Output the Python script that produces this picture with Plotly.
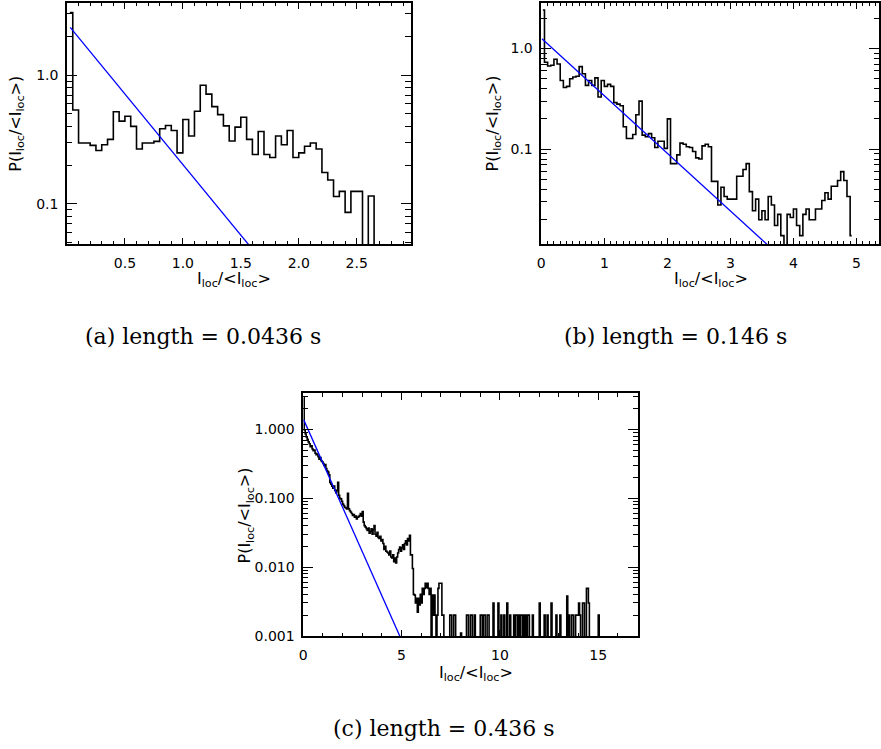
import plotly.graph_objects as go

W, H = 881, 749

# ---------------- data ----------------
bin_width = 0.05

# panel (a): length = 0.0436 s
a_values = [3.08, 0.537, 0.297, 0.297, 0.285, 0.26, 0.288, 0.317, 0.52, 0.44,
            0.48, 0.40, 0.267, 0.297, 0.297, 0.306, 0.384, 0.407, 0.372, 0.249,
            0.453, 0.337, 0.525, 0.837, 0.714, 0.57, 0.494, 0.404, 0.308, 0.395,
            0.472, 0.317, 0.242, 0.365, 0.242, 0.229, 0.337, 0.288, 0.372, 0.229,
            0.249, 0.28, 0.297, 0.267, 0.175, 0.153, 0.114, 0.125, 0.0857, 0.125,
            0.125, 0.0, 0.115, 0.0]
a_fit_x = [0.028, 1.60]
a_fit_y = [2.36, 0.0443]

# panel (b): length = 0.146 s
b_values = [2.41, 0.73, 0.67, 0.68, 0.78, 0.70, 0.48, 0.41, 0.42, 0.50,
            0.52, 0.53, 0.66, 0.56, 0.43, 0.48, 0.43, 0.51, 0.33, 0.48,
            0.42, 0.44, 0.42, 0.29, 0.28, 0.27, 0.167, 0.128, 0.128, 0.14,
            0.22, 0.30, 0.138, 0.133, 0.143, 0.13, 0.104, 0.12, 0.12, 0.102,
            0.20, 0.072, 0.072, 0.088, 0.115, 0.112, 0.106, 0.104, 0.095, 0.082,
            0.08, 0.108, 0.112, 0.106, 0.048, 0.048, 0.028, 0.042, 0.034, 0.032,
            0.032, 0.032, 0.054, 0.054, 0.063, 0.072, 0.038, 0.0245, 0.032, 0.020,
            0.0245, 0.020, 0.034, 0.028, 0.0175, 0.0226, 0.0139, 0.0, 0.0226, 0.021,
            0.0255, 0.0175, 0.0139, 0.0226, 0.0255, 0.020, 0.020, 0.0255, 0.0255, 0.031,
            0.037, 0.032, 0.043, 0.043, 0.049, 0.06, 0.049, 0.034, 0.0139]
b_fit_x = [0.01, 3.58]
b_fit_y = [1.25, 0.0114]

# panel (c): length = 0.436 s
c_values = [
    2.9, 0.98, 0.86, 0.78, 0.72, 0.66, 0.62, 0.56, 0.58, 0.52, 0.49, 0.50, 0.45, 0.43, 0.44, 0.40, 0.37, 0.39, 0.35, 0.34,
    0.32, 0.30, 0.31, 0.27, 0.25, 0.24, 0.22, 0.17, 0.16, 0.15, 0.14, 0.15, 0.13, 0.12, 0.13, 0.17, 0.11, 0.10, 0.098, 0.09,
    0.082, 0.078, 0.074, 0.072, 0.07, 0.118, 0.07, 0.066, 0.063, 0.06, 0.056, 0.058, 0.053, 0.055, 0.05, 0.053, 0.054, 0.056, 0.06, 0.055,
    0.064, 0.045, 0.040, 0.038, 0.036, 0.034, 0.037, 0.031, 0.033, 0.036, 0.03, 0.035, 0.040, 0.03, 0.028, 0.032, 0.027, 0.026, 0.028, 0.024,
    0.025, 0.022, 0.018, 0.02, 0.017, 0.0165, 0.016, 0.015, 0.017, 0.014, 0.0135, 0.015, 0.012, 0.0135, 0.0115, 0.014, 0.016, 0.018, 0.0195, 0.017,
    0.019, 0.021, 0.018, 0.022, 0.024, 0.021, 0.026, 0.024, 0.029, 0.015, 0.015, 0.0095, 0.004, 0.0039, 0.003, 0.0035, 0.0022, 0.0035, 0.0028, 0.004,
    0.003, 0.0049, 0.004, 0.0049, 0.0058, 0.005, 0.0058, 0.0049, 0.004, 0.0049, 0.0, 0.0039, 0.002, 0.0039, 0.002, 0.0, 0.002, 0.0049, 0.0058, 0.0058,
    0.0058, 0.002, 0.002, 0, 0, 0, 0, 0, 0, 0.002, 0.002, 0, 0, 0.002, 0.002, 0, 0, 0, 0, 0,
    0.0011, 0, 0, 0, 0, 0, 0.002, 0.002, 0, 0, 0.002, 0.002, 0, 0, 0.002, 0, 0, 0, 0, 0,
    0.002, 0.002, 0, 0.002, 0.002, 0, 0, 0.002, 0.002, 0, 0, 0, 0, 0.003, 0, 0, 0, 0, 0.003, 0,
    0, 0.002, 0, 0, 0.002, 0, 0, 0.003, 0, 0, 0.002, 0, 0, 0, 0.002, 0, 0.002, 0.002, 0, 0.002,
    0, 0.002, 0.002, 0, 0.002, 0, 0.002, 0, 0.002, 0.002, 0, 0, 0, 0.002, 0, 0, 0, 0, 0, 0,
    0.003, 0, 0, 0, 0, 0.002, 0, 0, 0.002, 0, 0, 0, 0.003, 0, 0, 0, 0, 0.002, 0, 0,
    0, 0.002, 0, 0, 0, 0, 0, 0, 0.0038, 0, 0.002, 0, 0, 0.002, 0.002, 0, 0, 0.002, 0.002, 0.002,
    0.003, 0.002, 0, 0, 0.003, 0.003, 0, 0, 0.0049, 0.0049, 0.003, 0, 0, 0, 0, 0, 0, 0, 0, 0,
    0.002, 0,
]
c_fit_x = [0.02, 4.93]
c_fit_y = [1.39, 0.00096]

captions = ["(a) length = 0.0436 s", "(b) length = 0.146 s", "(c) length = 0.436 s"]
xtitle = "I<sub>loc</sub>/&lt;I<sub>loc</sub>&gt;"
ytitle = "P(I<sub>loc</sub>/&lt;I<sub>loc</sub>&gt;)"

# ---------------- helpers ----------------
FLOOR = 1e-7  # empty bins drawn below the log axis range


def centers(vals):
    return [(i + 0.5) * bin_width for i in range(len(vals))]


def shown(vals):
    return [v if v > 0 else FLOOR for v in vals]


def px2x(px):
    return px / W


def px2y(py):
    return 1 - py / H


def log_minor(lo_exp, hi_exp):
    out = []
    for e in range(lo_exp, hi_exp + 1):
        for m in range(2, 10):
            out.append(m * 10 ** e)
    return out


tickfont = dict(family="DejaVu Sans, Liberation Sans, sans-serif", size=14, color="black")


def xaxis(dom, rng, tv, tt, minor_dtick):
    return dict(domain=dom, range=rng, showline=True, linecolor="black", linewidth=1.5,
                mirror="allticks", ticks="inside", ticklen=7, tickwidth=1, tickcolor="black",
                tickmode="array", tickvals=tv, ticktext=tt, showgrid=False, zeroline=False,
                tickfont=tickfont, ticklabelstandoff=5,
                minor=dict(ticks="inside", ticklen=4, tickwidth=1, tickcolor="black",
                           tick0=0, dtick=minor_dtick, showgrid=False))


def yaxis(dom, rng, tv, tt, minor_vals):
    return dict(domain=dom, type="log", range=rng, showline=True, linecolor="black", linewidth=1.5,
                mirror="allticks", ticks="inside", ticklen=10, tickwidth=1, tickcolor="black",
                tickmode="array", tickvals=tv, ticktext=tt, showgrid=False, zeroline=False,
                tickfont=tickfont, ticklabelstandoff=4,
                minor=dict(ticks="inside", ticklen=5.5, tickwidth=1, tickcolor="black",
                           tickmode="array", tickvals=minor_vals, showgrid=False))


fig = go.Figure()

hist_line = dict(color="black", width=1.6, shape="hvh")
fit_line = dict(color="#0000ff", width=1.3)

for vals, fx, fy, xa, ya in [
    (a_values, a_fit_x, a_fit_y, "x", "y"),
    (b_values, b_fit_x, b_fit_y, "x2", "y2"),
    (c_values, c_fit_x, c_fit_y, "x3", "y3"),
]:
    fig.add_trace(go.Scatter(x=centers(vals), y=shown(vals), mode="lines", line=hist_line,
                             xaxis=xa, yaxis=ya, showlegend=False, hoverinfo="skip"))
    fig.add_trace(go.Scatter(x=fx, y=fy, mode="lines", line=fit_line,
                             xaxis=xa, yaxis=ya, showlegend=False, hoverinfo="skip"))

# domains from pixel geometry
ya_dom = [px2y(246.7), px2y(2.7)]
yc_dom = [px2y(642.3), px2y(396.7)]

fig.update_layout(
    width=W, height=H, margin=dict(l=0, r=0, t=0, b=0),
    paper_bgcolor="white", plot_bgcolor="white",
    xaxis=xaxis([px2x(63.4), px2x(409.5)], [0, 2.966],
                [0.5, 1.0, 1.5, 2.0, 2.5], ["0.5", "1.0", "1.5", "2.0", "2.5"], 0.1),
    yaxis=yaxis(ya_dom, [-1.316, 0.565], [0.1, 1.0], ["0.1", "1.0"], log_minor(-2, 0)),
    xaxis2=xaxis([px2x(541), 1.0], [0, 5.358],
                 [0, 1, 2, 3, 4, 5], ["0", "1", "2", "3", "4", "5"], 0.1),
    yaxis2=yaxis(ya_dom, [-1.944, 0.454], [0.1, 1.0], ["0.1", "1.0"], log_minor(-2, 0)),
    xaxis3=xaxis([px2x(301.3), px2x(638.3)], [0, 17.02],
                 [0, 5, 10, 15], ["0", "5", "10", "15"], 1),
    yaxis3=yaxis(yc_dom, [-3.007, 0.53], [0.001, 0.01, 0.1, 1.0],
                 ["0.001", "0.010", "0.100", "1.000"], log_minor(-3, 0)),
)
fig.layout.xaxis.anchor = "y"
fig.layout.yaxis.anchor = "x"
fig.layout.xaxis2.anchor = "y2"
fig.layout.yaxis2.anchor = "x2"
fig.layout.xaxis3.anchor = "y3"
fig.layout.yaxis3.anchor = "x3"

annfont = dict(family="DejaVu Sans, Liberation Sans, sans-serif", size=16, color="black")
capfont = dict(family="DejaVu Serif, Liberation Serif, serif", size=22, color="black")

anns = []
# x titles
for cx, cy in [(232, 282), (712, 282), (475, 680)]:
    anns.append(dict(text=xtitle, x=px2x(cx), y=px2y(cy), xref="paper", yref="paper",
                     showarrow=False, font=annfont, xanchor="center", yanchor="middle"))
# y titles
for cx, cy in [(13, 125), (493, 125), (243, 520)]:
    anns.append(dict(text=ytitle, x=px2x(cx), y=px2y(cy), xref="paper", yref="paper",
                     showarrow=False, font=annfont, xanchor="center", yanchor="middle",
                     textangle=-90))
# captions
for txt, (cx, cy) in zip(captions, [(200, 340), (676, 340), (443, 735)]):
    anns.append(dict(text=txt, x=px2x(cx), y=px2y(cy), xref="paper", yref="paper",
                     showarrow=False, font=capfont, xanchor="center", yanchor="middle"))
fig.update_layout(annotations=anns)

fig.write_html("out.html")
